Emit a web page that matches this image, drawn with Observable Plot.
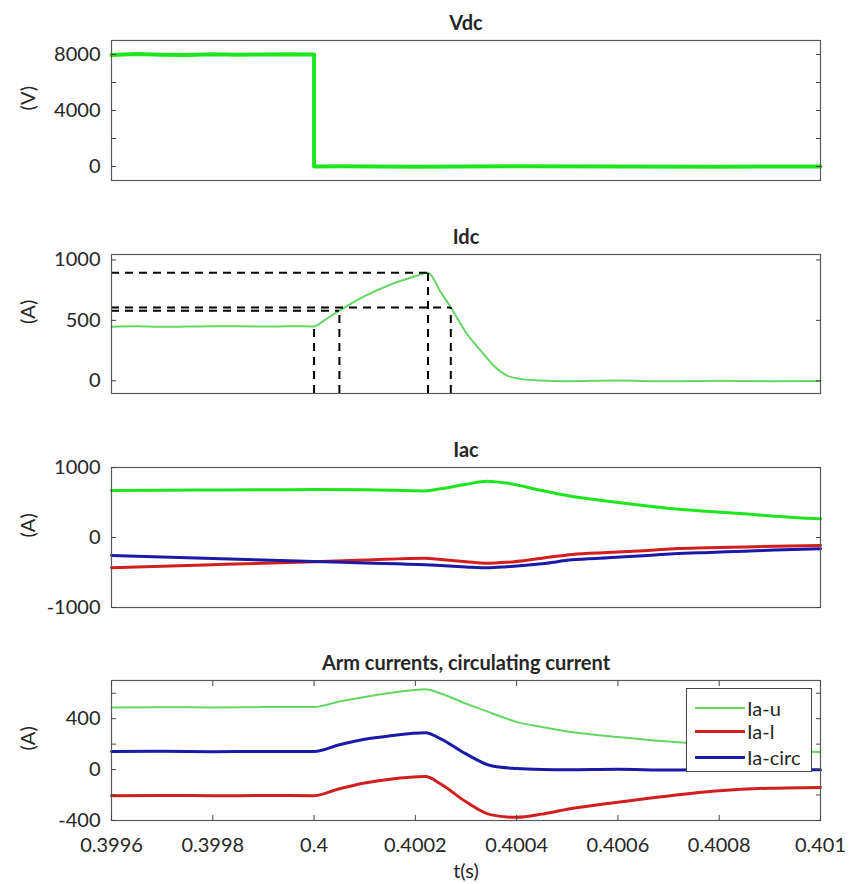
<!DOCTYPE html>
<html><head><meta charset="utf-8">
<script src="https://cdn.jsdelivr.net/npm/d3@7"></script>
<script src="https://cdn.jsdelivr.net/npm/@observablehq/plot@0.6"></script>
<style>
body{margin:0;background:#fff;}
#chart{position:relative;width:850px;height:884px;font-family:Lato,sans-serif;}
#chart svg{display:block;}
.legend{position:absolute;left:686px;top:688px;width:126px;height:84px;border:1px solid #444;background:#fff;box-sizing:border-box;}
.legend .row{position:absolute;left:8px;height:24px;display:flex;align-items:center;font-size:20px;color:#262626;font-family:Lato,sans-serif;}
.legend .sw{width:50px;height:0;border-top-style:solid;margin-right:2px;}
</style></head><body><div id="chart"></div><script>
// ---- data ----
const xDomain = [0.3996, 0.401];
const xTicks = [0.3996, 0.3998, 0.4, 0.4002, 0.4004, 0.4006, 0.4008, 0.401];
const xTickLabels = ["0.3996", "0.3998", "0.4", "0.4002", "0.4004", "0.4006", "0.4008", "0.401"];

const vdcT = [0.3996, 0.39965, 0.3997, 0.39975, 0.3998, 0.39985, 0.3999, 0.39995, 0.4, 0.4, 0.40005, 0.4002, 0.4004, 0.4006, 0.4008, 0.401];
const vdcV = [7960, 8040, 7990, 7960, 8010, 7980, 8000, 8020, 8000, 0, 10, -10, 15, 0, -10, 5];
const vdcTicks = [0, 2000, 4000, 6000, 8000];
const vdcTickLabels = ["0", "", "4000", "", "8000"];

const idcT = [0.3996, 0.39965, 0.3997, 0.3998, 0.3999, 0.39995, 0.4, 0.40002, 0.40005, 0.4001, 0.40015, 0.4002, 0.400225, 0.40025, 0.40027, 0.4003, 0.40033, 0.400355, 0.40038, 0.40041, 0.40045, 0.4005, 0.4006, 0.4007, 0.4008, 0.4009, 0.401];
const idcV = [448, 452, 447, 452, 449, 451, 450, 500, 580, 700, 795, 865, 895, 735, 607, 400, 245, 124, 45, 14, 2, -3, 2, -4, 0, -3, -2];
const idcTicks = [0, 500, 1000];
const idcTickLabels = ["0", "500", "1000"];
// dashed marker lines (time, current)
const markT = [0.4, 0.40005, 0.400225, 0.40027];
const markV = [450, 580, 895, 607];
const markHasHorizontal = [false, true, true, true];

const iacT = [0.3996, 0.3997, 0.3998, 0.3999, 0.4, 0.4001, 0.40022, 0.40025, 0.4003, 0.400342, 0.40038, 0.40045, 0.40051, 0.40058, 0.40065, 0.40071, 0.40078, 0.40085, 0.40091, 0.401];
const iacGreen = [672, 676, 679, 682, 684, 682, 665, 696, 760, 805, 777, 672, 586, 519, 458, 410, 372, 339, 305, 267];
const iacRed = [-433, -411, -389, -367, -345, -323, -296, -315, -345, -367, -355, -295, -243, -215, -188, -162, -148, -135, -125, -114];
const iacBlue = [-257, -278, -300, -321, -343, -364, -390, -400, -420, -433, -418, -375, -319, -290, -260, -233, -213, -195, -180, -162];
const iacTicks = [-1000, 0, 1000];
const iacTickLabels = ["-1000", "0", "1000"];

const armT = [0.3996, 0.3997, 0.3998, 0.3999, 0.4, 0.40005, 0.4001, 0.40015, 0.40022, 0.40025, 0.4003, 0.40035, 0.4004, 0.40045, 0.4005, 0.4006, 0.4007, 0.4008, 0.4009, 0.401];
const armU = [487, 490, 488, 491, 492, 535, 571, 601, 632, 598, 518, 445, 375, 334, 300, 256, 220, 190, 162, 137];
const armL = [-205, -203, -206, -204, -205, -150, -105, -75, -55, -113, -253, -356, -375, -350, -312, -256, -207, -167, -146, -140];
const armCirc = [142, 144, 141, 143, 142, 195, 238, 265, 290, 242, 123, 30, 8, 0, -2, 2, -3, 1, -2, -2];
const armTicks = [-400, -200, 0, 200, 400, 600];
const armTickLabels = ["-400", "", "0", "", "400", ""];
const armNames = ["Ia-u", "Ia-l", "Ia-circ"];

const GREEN_BRIGHT = "#1ee61e", GREEN_SOFT = "#62d862", RED = "#d21e1e", BLUE = "#1a1aa6";

const zip = (T, V) => T.map((t, i) => ({t, v: V[i]}));
const fontFamily = "Lato, sans-serif";

function panel({height, marginTop, marginBottom, title, yLabel, yDomain, yTicks, yTickLabels, marks, bottomAxis}) {
  const fmt = d => yTickLabels[yTicks.indexOf(d)];
  const axes = [
    Plot.frame({stroke: "#5a5a5a", strokeWidth: 1.2}),
    Plot.axisY({anchor: "left", ticks: yTicks, tickSize: -5, tickPadding: 16, tickFormat: fmt, label: null, stroke: "#444"}),
    Plot.axisY({anchor: "right", ticks: yTicks, tickSize: -5, tickFormat: () => "", label: null, stroke: "#444"})
  ];
  if (bottomAxis) {
    axes.push(
      Plot.axisX({anchor: "bottom", ticks: xTicks, tickSize: -5, tickPadding: 22, tickFormat: d => xTickLabels[xTicks.indexOf(d)], label: null, stroke: "#444"}),
      Plot.axisX({anchor: "top", ticks: xTicks, tickSize: -5, tickFormat: () => "", label: null, stroke: "#444"}),
      Plot.text(["t(s)"], {text: d => d, frameAnchor: "bottom", dy: 51, lineAnchor: "middle", fontSize: 20})
    );
  }
  return Plot.plot({
    width: 850, height, marginLeft: 111, marginRight: 30, marginTop, marginBottom,
    style: {fontFamily, fontSize: "20px", color: "#262626", background: "#fff", overflow: "visible"},
    x: {domain: xDomain, axis: bottomAxis ? undefined : null},
    y: {domain: yDomain},
    marks: [
      ...marks,
      ...axes,
      Plot.text([title], {text: d => d, frameAnchor: "top", dy: -17, lineAnchor: "middle", fontWeight: "bold", fontSize: 20}),
      Plot.text([yLabel], {text: d => d, frameAnchor: "left", dx: -83, rotate: -90, lineAnchor: "middle", fontSize: 20})
    ]
  });
}

const chart = document.getElementById("chart");
const smooth = "monotone-x";

// Panel 1: Vdc
chart.append(panel({
  height: 222, marginTop: 40, marginBottom: 42, title: "Vdc", yLabel: "(V)",
  yDomain: [-1000, 9000], yTicks: vdcTicks, yTickLabels: vdcTickLabels,
  marks: [Plot.line(zip(vdcT, vdcV), {x: "t", y: "v", stroke: GREEN_BRIGHT, strokeWidth: 4})]
}));

// Panel 2: Idc
const idcDomain = [-105, 1045];
const markData = markT.map((t, i) => ({t, v: markV[i], h: markHasHorizontal[i]}));
chart.append(panel({
  height: 223, marginTop: 32, marginBottom: 52, title: "Idc", yLabel: "(A)",
  yDomain: idcDomain, yTicks: idcTicks, yTickLabels: idcTickLabels,
  marks: [
    Plot.line(zip(idcT, idcV), {x: "t", y: "v", stroke: GREEN_SOFT, strokeWidth: 2, curve: smooth}),
    Plot.ruleX(markData, {x: "t", y1: idcDomain[0], y2: "v", stroke: "#000", strokeWidth: 2, strokeDasharray: "8,6"}),
    Plot.ruleY(markData.filter(d => d.h), {y: "v", x1: xDomain[0], x2: "t", stroke: "#000", strokeWidth: 2, strokeDasharray: "8,6"})
  ]
}));

// Panel 3: Iac
chart.append(panel({
  height: 195, marginTop: 22, marginBottom: 33, title: "Iac", yLabel: "(A)",
  yDomain: [-1000, 1000], yTicks: iacTicks, yTickLabels: iacTickLabels,
  marks: [
    Plot.line(zip(iacT, iacGreen), {x: "t", y: "v", stroke: GREEN_BRIGHT, strokeWidth: 3, curve: smooth}),
    Plot.line(zip(iacT, iacRed), {x: "t", y: "v", stroke: RED, strokeWidth: 3, curve: smooth}),
    Plot.line(zip(iacT, iacBlue), {x: "t", y: "v", stroke: BLUE, strokeWidth: 3, curve: smooth})
  ]
}));

// Panel 4: Arm currents
chart.append(panel({
  height: 244, marginTop: 40, marginBottom: 64, title: "Arm currents, circulating current", yLabel: "(A)",
  yDomain: [-400, 700], yTicks: armTicks, yTickLabels: armTickLabels, bottomAxis: true,
  marks: [
    Plot.line(zip(armT, armU), {x: "t", y: "v", stroke: GREEN_SOFT, strokeWidth: 2, curve: smooth}),
    Plot.line(zip(armT, armL), {x: "t", y: "v", stroke: RED, strokeWidth: 3, curve: smooth}),
    Plot.line(zip(armT, armCirc), {x: "t", y: "v", stroke: BLUE, strokeWidth: 3, curve: smooth})
  ]
}));

// Legend
const legend = document.createElement("div");
legend.className = "legend";
const legColors = [GREEN_SOFT, RED, BLUE];
const legWidths = [2, 3, 3];
const legTops = [7, 30, 56];
armNames.forEach((name, i) => {
  const row = document.createElement("div");
  row.className = "row";
  row.style.top = legTops[i] + "px";
  const sw = document.createElement("span");
  sw.className = "sw";
  sw.style.borderTopColor = legColors[i];
  sw.style.borderTopWidth = legWidths[i] + "px";
  row.append(sw, document.createTextNode(name));
  legend.append(row);
});
chart.append(legend);
</script></body></html>
